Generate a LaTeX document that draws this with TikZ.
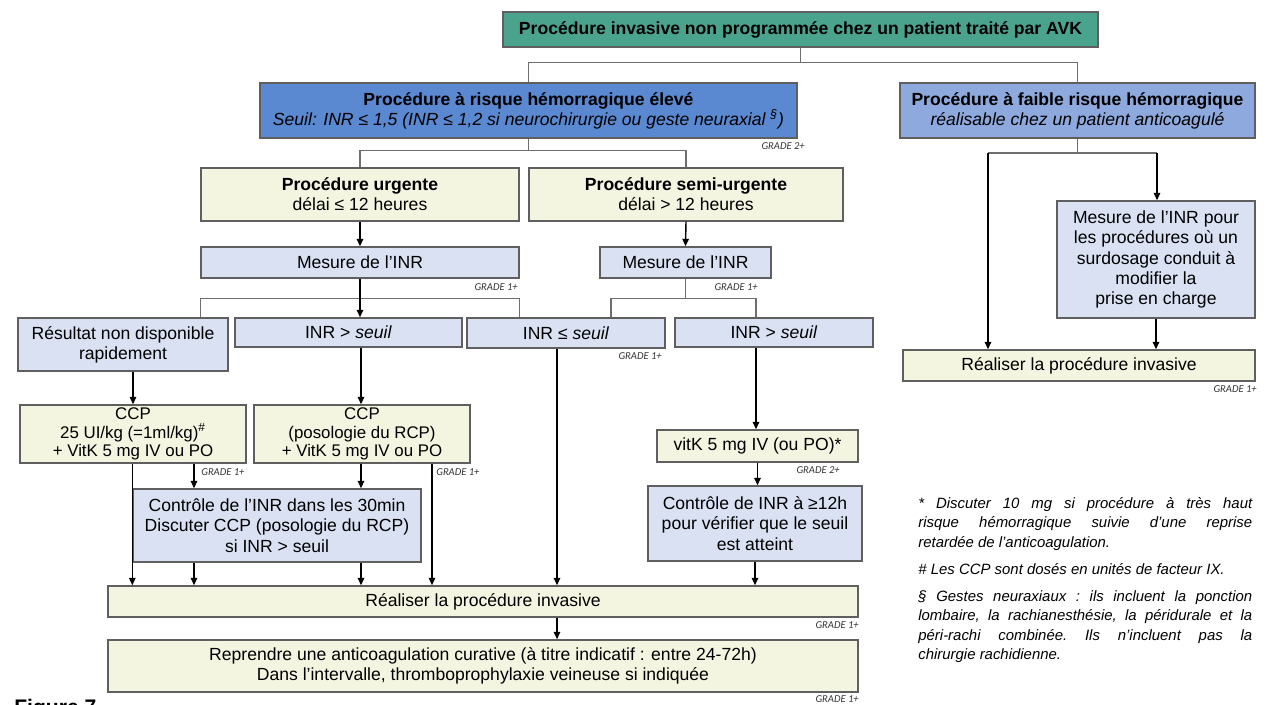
\documentclass[tikz,border=0pt]{standalone}
\usepackage{fontspec}
\setmainfont{Liberation Sans}
\newfontfamily\gradefont{Carlito}
\usepackage{tikz}
\usetikzlibrary{arrows.meta, positioning}
\definecolor{tealbox}{RGB}{74,163,141}
\definecolor{bluehigh}{RGB}{90,136,209}
\definecolor{bluelow}{RGB}{142,169,222}
\definecolor{paleyellow}{RGB}{244,245,225}
\definecolor{paleblue}{RGB}{217,225,243}
\definecolor{boxline}{RGB}{95,95,95}
\definecolor{treeline}{RGB}{110,110,110}
\tikzstyle{box} = [rectangle, draw=boxline, line width=0.8pt, inner sep=0pt, align=center, font=\fontsize{10}{11.5}\selectfont]
\tikzstyle{headbox} = [box, fill=tealbox, font=\fontsize{10}{11.5}\selectfont\bfseries]
\tikzstyle{riskhigh} = [box, fill=bluehigh]
\tikzstyle{risklow} = [box, fill=bluelow]
\tikzstyle{action} = [box, fill=paleyellow]
\tikzstyle{check} = [box, fill=paleblue]
\tikzstyle{grade} = [inner sep=0pt, text=black!80, font=\gradefont\itshape\fontsize{6}{7}\selectfont]
\tikzstyle{note} = [inner sep=0pt, text width=6.68cm, align=justify, font=\fontsize{8.5}{11}\selectfont\itshape\frenchspacing]
\tikzstyle{tree} = [draw=treeline, line width=0.7pt]
\tikzstyle{arrow} = [black, line width=0.8pt, -{Stealth[length=1.5mm, width=1.3mm, inset=0pt]}]

\begin{document}
\begin{tikzpicture}[x=0.02cm, y=-0.02cm]
\useasboundingbox (0,0) rectangle (1269,704);
\fill [white] (0,0) rectangle (1269,704);

% top and risk level
\node (top) [headbox, minimum width=11.9cm, minimum height=0.7cm] at (800.5,29.5) {Procédure invasive non programmée chez un patient traité par AVK};
\node (high) [riskhigh, minimum width=10.74cm, minimum height=1.1cm] at (528.5,110.5) {\textbf{Procédure à risque hémorragique élevé}\\\textit{Seuil: INR ≤ 1,5 (INR ≤ 1,2 si neurochirurgie ou geste neuraxial \textsuperscript{§})}};
\node (low) [risklow, minimum width=7.1cm, minimum height=1.1cm] at (1077.5,110.5) {\textbf{Procédure à faible risque hémorragique}\\\textit{réalisable chez un patient anticoagulé}};

% high risk branch
\node (urg) [action, minimum width=6.36cm, minimum height=1.06cm] at (360,194.5) {\textbf{Procédure urgente}\\délai ≤ 12 heures};
\node (semi) [action, minimum width=6.28cm, minimum height=1.06cm] at (686,194.5) {\textbf{Procédure semi-urgente}\\délai > 12 heures};
\node (mesA) [check, minimum width=6.36cm, minimum height=0.62cm] at (360,262.5) {Mesure de l’INR};
\node (mesB) [check, minimum width=3.42cm, minimum height=0.62cm] at (685.5,262.5) {Mesure de l’INR};
\node (nodisp) [check, minimum width=4.2cm, minimum height=1.06cm] at (123,344.5) {Résultat non disponible\\rapidement};
\node (supA) [check, minimum width=4.54cm, minimum height=0.58cm] at (348.5,332.5) {INR > \textit{seuil}};
\node (inf) [check, minimum width=3.96cm, minimum height=0.6cm] at (566,333) {INR ≤ \textit{seuil}};
\node (supB) [check, minimum width=3.96cm, minimum height=0.58cm] at (774,332.5) {INR > \textit{seuil}};
\node (ccpA) [action, minimum width=4.52cm, minimum height=1.16cm, font=\fontsize{9.6}{10.4}\selectfont] at (133,434) {CCP\\25 UI/kg (=1ml/kg)\smash{\textsuperscript{\#}}\\+ VitK 5 mg IV ou PO};
\node (ccpB) [action, minimum width=4.32cm, minimum height=1.16cm, font=\fontsize{9.6}{10.4}\selectfont] at (362,434) {CCP\\(posologie du RCP)\\+ VitK 5 mg IV ou PO};
\node (vitk) [action, minimum width=4.02cm, minimum height=0.64cm] at (757.5,446) {vitK 5 mg IV (ou PO)*};
\node (ctrlA) [check, minimum width=5.76cm, minimum height=1.46cm] at (277,525.5) {Contrôle de l’INR dans les 30min\\Discuter CCP (posologie du RCP)\\si INR > seuil};
\node (ctrlB) [check, minimum width=4.28cm, minimum height=1.5cm] at (755,523.5) {Contrôle de INR à ≥12h\\pour vérifier que le seuil\\est atteint};
\node (doA) [action, minimum width=15cm, minimum height=0.62cm] at (483,601.5) {Réaliser la procédure invasive};
\node (resume) [action, minimum width=15cm, minimum height=1.04cm] at (483,666) {Reprendre une anticoagulation curative (à titre indicatif : entre 24-72h)\\Dans l’intervalle, thromboprophylaxie veineuse si indiquée};

% low risk branch
\node (mesC) [check, minimum width=3.96cm, minimum height=2.34cm] at (1156,259.5) {Mesure de l’INR pour\\les procédures où un\\surdosage conduit à\\modifier la\\prise en charge};
\node (doB) [action, minimum width=7.04cm, minimum height=0.62cm] at (1079,365.5) {Réaliser la procédure invasive};

% grades
\node (g1) [grade, anchor=north east] at (805,142) {GRADE 2+};
\node (g2) [grade, anchor=north east] at (518,283) {GRADE 1+};
\node (g3) [grade, anchor=north east] at (758,283) {GRADE 1+};
\node (g4) [grade, anchor=north east] at (662,352) {GRADE 1+};
\node (g5) [grade, anchor=north west] at (201,468) {GRADE 1+};
\node (g6) [grade, anchor=north west] at (436,468) {GRADE 1+};
\node (g7) [grade, anchor=north east] at (840,466) {GRADE 2+};
\node (g8) [grade, anchor=north east] at (1257,385) {GRADE 1+};
\node (g9) [grade, anchor=north east] at (859,621) {GRADE 1+};
\node (g10) [grade, anchor=north east] at (859,695) {GRADE 1+};

% footnotes
\node (notes) [note, anchor=north west] at (918,497) {* Discuter 10 mg si procédure à très haut\linebreak risque hémorragique suivie d’une reprise\linebreak retardée de l’anticoagulation.\par\vspace{4.5pt}
\# Les CCP sont dosés en unités de facteur IX.\par\vspace{4.5pt}
§ Gestes neuraxiaux : ils incluent la ponction\linebreak lombaire, la rachianesthésie, la péridurale et la\linebreak péri-rachi combinée. Ils n’incluent pas la\linebreak chirurgie rachidienne.};
\node (fig) [anchor=north west, inner sep=0pt, font=\fontsize{12}{14}\selectfont\bfseries] at (14,699) {Figure 7};

% helper columns
\coordinate (cA) at (194,0);
\coordinate (cB) at (361,0);
\coordinate (cC) at (432,0);
\coordinate (cD) at (557,0);
\coordinate (cG) at (611,0);
\coordinate (cH) at (756,0);
\coordinate (cE) at (988,153);
\coordinate (cF) at (1157,153);

% connectors
\draw [tree] (top.south) -- ++(0,15) -| (high.north);
\draw [tree] (top.south) -- ++(0,15) -| (low.north);
\draw [tree] (high.south) -- ++(0,12) -| (urg.north);
\draw [tree] (high.south) -- ++(0,12) -| (semi.north);
\draw [arrow] (urg.south) -- (mesA.north);
\draw [arrow] (semi.south) -- (mesB.north);
\draw [tree] (mesA.south) -- ++(0,20) -| (mesA.west |- nodisp.north);
\draw [tree] (mesA.south) -- ++(0,20) -| (mesA.east |- inf.north);
\draw [arrow] (mesA.south) -- (mesA.south |- supA.north);
\draw [tree] (mesB.south) -- ++(0,20) -| (cG |- inf.north);
\draw [tree] (mesB.south) -- ++(0,20) -| (cH |- supB.north);
\draw [arrow] (ccpA.north |- nodisp.south) -- (ccpA.north);
\draw [arrow] (cB |- supA.south) -- (cB |- ccpB.north);
\draw [arrow] (cD |- inf.south) -- (cD |- doA.north);
\draw [arrow] (cH |- supB.south) -- (cH |- vitk.north);
\draw [arrow] (vitk.south) -- (vitk.south |- ctrlB.north);
\draw [arrow] (ctrlB.south) -- (ctrlB.south |- doA.north);
\draw [arrow] (ctrlA.west |- ccpA.south) -- (ctrlA.west |- doA.north);
\draw [arrow] (cA |- ccpA.south) -- (cA |- ctrlA.north);
\draw [arrow] (cA |- ctrlA.south) -- (cA |- doA.north);
\draw [arrow] (cB |- ccpB.south) -- (cB |- ctrlA.north);
\draw [arrow] (cB |- ctrlA.south) -- (cB |- doA.north);
\draw [arrow] (cC |- ccpB.south) -- (cC |- doA.north);
\draw [arrow] (cD |- doA.south) -- (cD |- resume.north);
\draw [tree] (low.south) |- (cE);
\draw [tree] (low.south) |- (cF);
\draw [arrow] (cE) -- (cE |- doB.north);
\draw [arrow] (cF) -- (cF |- mesC.north);
\draw [arrow] (mesC.south) -- (mesC.south |- doB.north);
\end{tikzpicture}
\end{document}
